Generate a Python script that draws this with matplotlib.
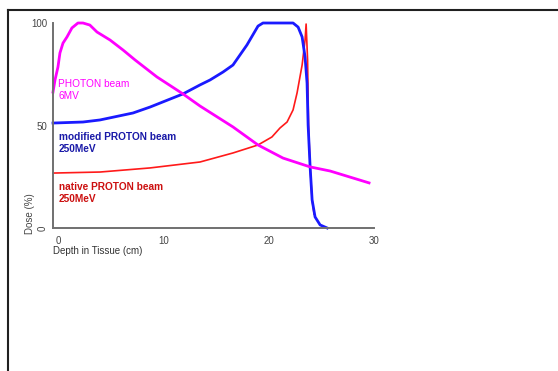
import numpy as np
import matplotlib
matplotlib.use("Agg")
import matplotlib.pyplot as plt
from matplotlib.lines import Line2D

plt.rcParams['font.family'] = ['Liberation Sans', 'DejaVu Sans']

# depth (cm) / dose (%)
photon_depth = [-0.5, -0.31, -0.03, 0.16, 0.45, 0.83, 1.3, 1.87, 2.35, 3.0, 3.68,
                4.92, 6.16, 7.29, 9.37, 11.85, 13.47, 16.6, 18.98, 21.36, 23.93,
                25.83, 29.53]
photon_dose = [66.3, 72.2, 78.5, 85.4, 90.2, 93.2, 97.6, 100, 100, 99.0, 95.6,
               91.7, 86.8, 82.0, 73.7, 65.4, 59.5, 49.3, 40.5, 34.1, 29.8,
               27.8, 22.0]

modified_depth = [-0.5, 2.35, 3.96, 7.1, 8.72, 11.85, 13.47, 14.42, 15.66, 16.6,
                  17.93, 18.98, 19.45, 19.84, 22.31, 22.79, 23.17, 23.45, 23.64,
                  23.74, 23.93, 24.12, 24.4, 24.88, 25.55]
modified_dose = [51.2, 51.7, 52.7, 56.1, 59.0, 65.4, 69.8, 72.2, 76.1, 79.5,
                 89.3, 98.5, 100, 100, 100, 98.0, 93.2, 83.4, 70.7,
                 50.2, 29.8, 13.7, 5.4, 1.5, 0]

native_depth = [-0.5, 3.96, 8.72, 13.47, 16.6, 18.98, 20.3, 21.07, 21.74, 22.31,
                22.69, 23.17, 23.45, 23.55, 23.69, 23.78, 23.93, 24.12, 24.31]
native_dose = [26.8, 27.3, 29.3, 32.2, 36.6, 40.5, 44.4, 48.8, 51.7, 57.6,
               65.9, 79.5, 91.7, 99.5, 82, 50.2, 29.8, 13.7, 6.8]

x_ticks = [0, 10, 20, 30]
y_ticks = [0, 50, 100]

W, H = 558, 371
fig = plt.figure(figsize=(W / 100, H / 100), dpi=100)
ax = fig.add_axes([53 / W, (H - 228) / H, (374 - 53) / W, (228 - 23) / H])

ax.plot(native_depth, native_dose, color='#ff1a1a', lw=1.2, clip_on=False,
        solid_joinstyle='round')
ax.plot(modified_depth, modified_dose, color='#1a1aff', lw=2.0, clip_on=False,
        solid_joinstyle='round')
ax.plot(photon_depth, photon_dose, color='#ff00ff', lw=2.0, clip_on=False,
        solid_joinstyle='round')

ax.set_xlim(-0.5, 30)
ax.set_ylim(0, 100)
for s in ['top', 'right']:
    ax.spines[s].set_visible(False)
for s in ['left', 'bottom']:
    ax.spines[s].set_color('#707070')
    ax.spines[s].set_linewidth(1.4)

ax.set_xticks(x_ticks)
ax.set_yticks(y_ticks)
ax.set_xticklabels([str(t) for t in x_ticks])
ax.set_yticklabels([str(t) for t in y_ticks])
ax.tick_params(length=0, labelsize=7, labelcolor='#444444')
ax.tick_params(axis='x', pad=6)
ax.tick_params(axis='y', pad=4)
ax.get_yticklabels()[0].set_rotation(90)
ax.get_yticklabels()[0].set_va('center')

ax.text(0.0, 72.7, 'PHOTON beam\n6MV', color='#ff00ff', fontsize=7.3,
        va='top', ha='left', linespacing=1.3)
ax.text(0.07, 46.8, 'modified PROTON beam\n250MeV', color='#1a1aa8', fontsize=7.3,
        va='top', ha='left', linespacing=1.3, fontweight='bold')
ax.text(0.07, 22.4, 'native PROTON beam\n250MeV', color='#cc1010', fontsize=7.3,
        va='top', ha='left', linespacing=1.3, fontweight='bold')

fig.text(30 / W, 1 - 214 / H, 'Dose (%)', rotation=90, fontsize=7,
         color='#444444', ha='center', va='center')
fig.text(53 / W, 1 - 251 / H, 'Depth in Tissue (cm)', fontsize=7,
         color='#333333', ha='left', va='center')

# frame around the slide
fig.add_artist(Line2D([7.5 / W, 7.5 / W], [0, 1 - 9.5 / H], color='#202020', lw=1.5))
fig.add_artist(Line2D([7.5 / W, 1], [1 - 9.5 / H, 1 - 9.5 / H], color='#202020', lw=1.5))

fig.savefig('out.png', dpi=100)
